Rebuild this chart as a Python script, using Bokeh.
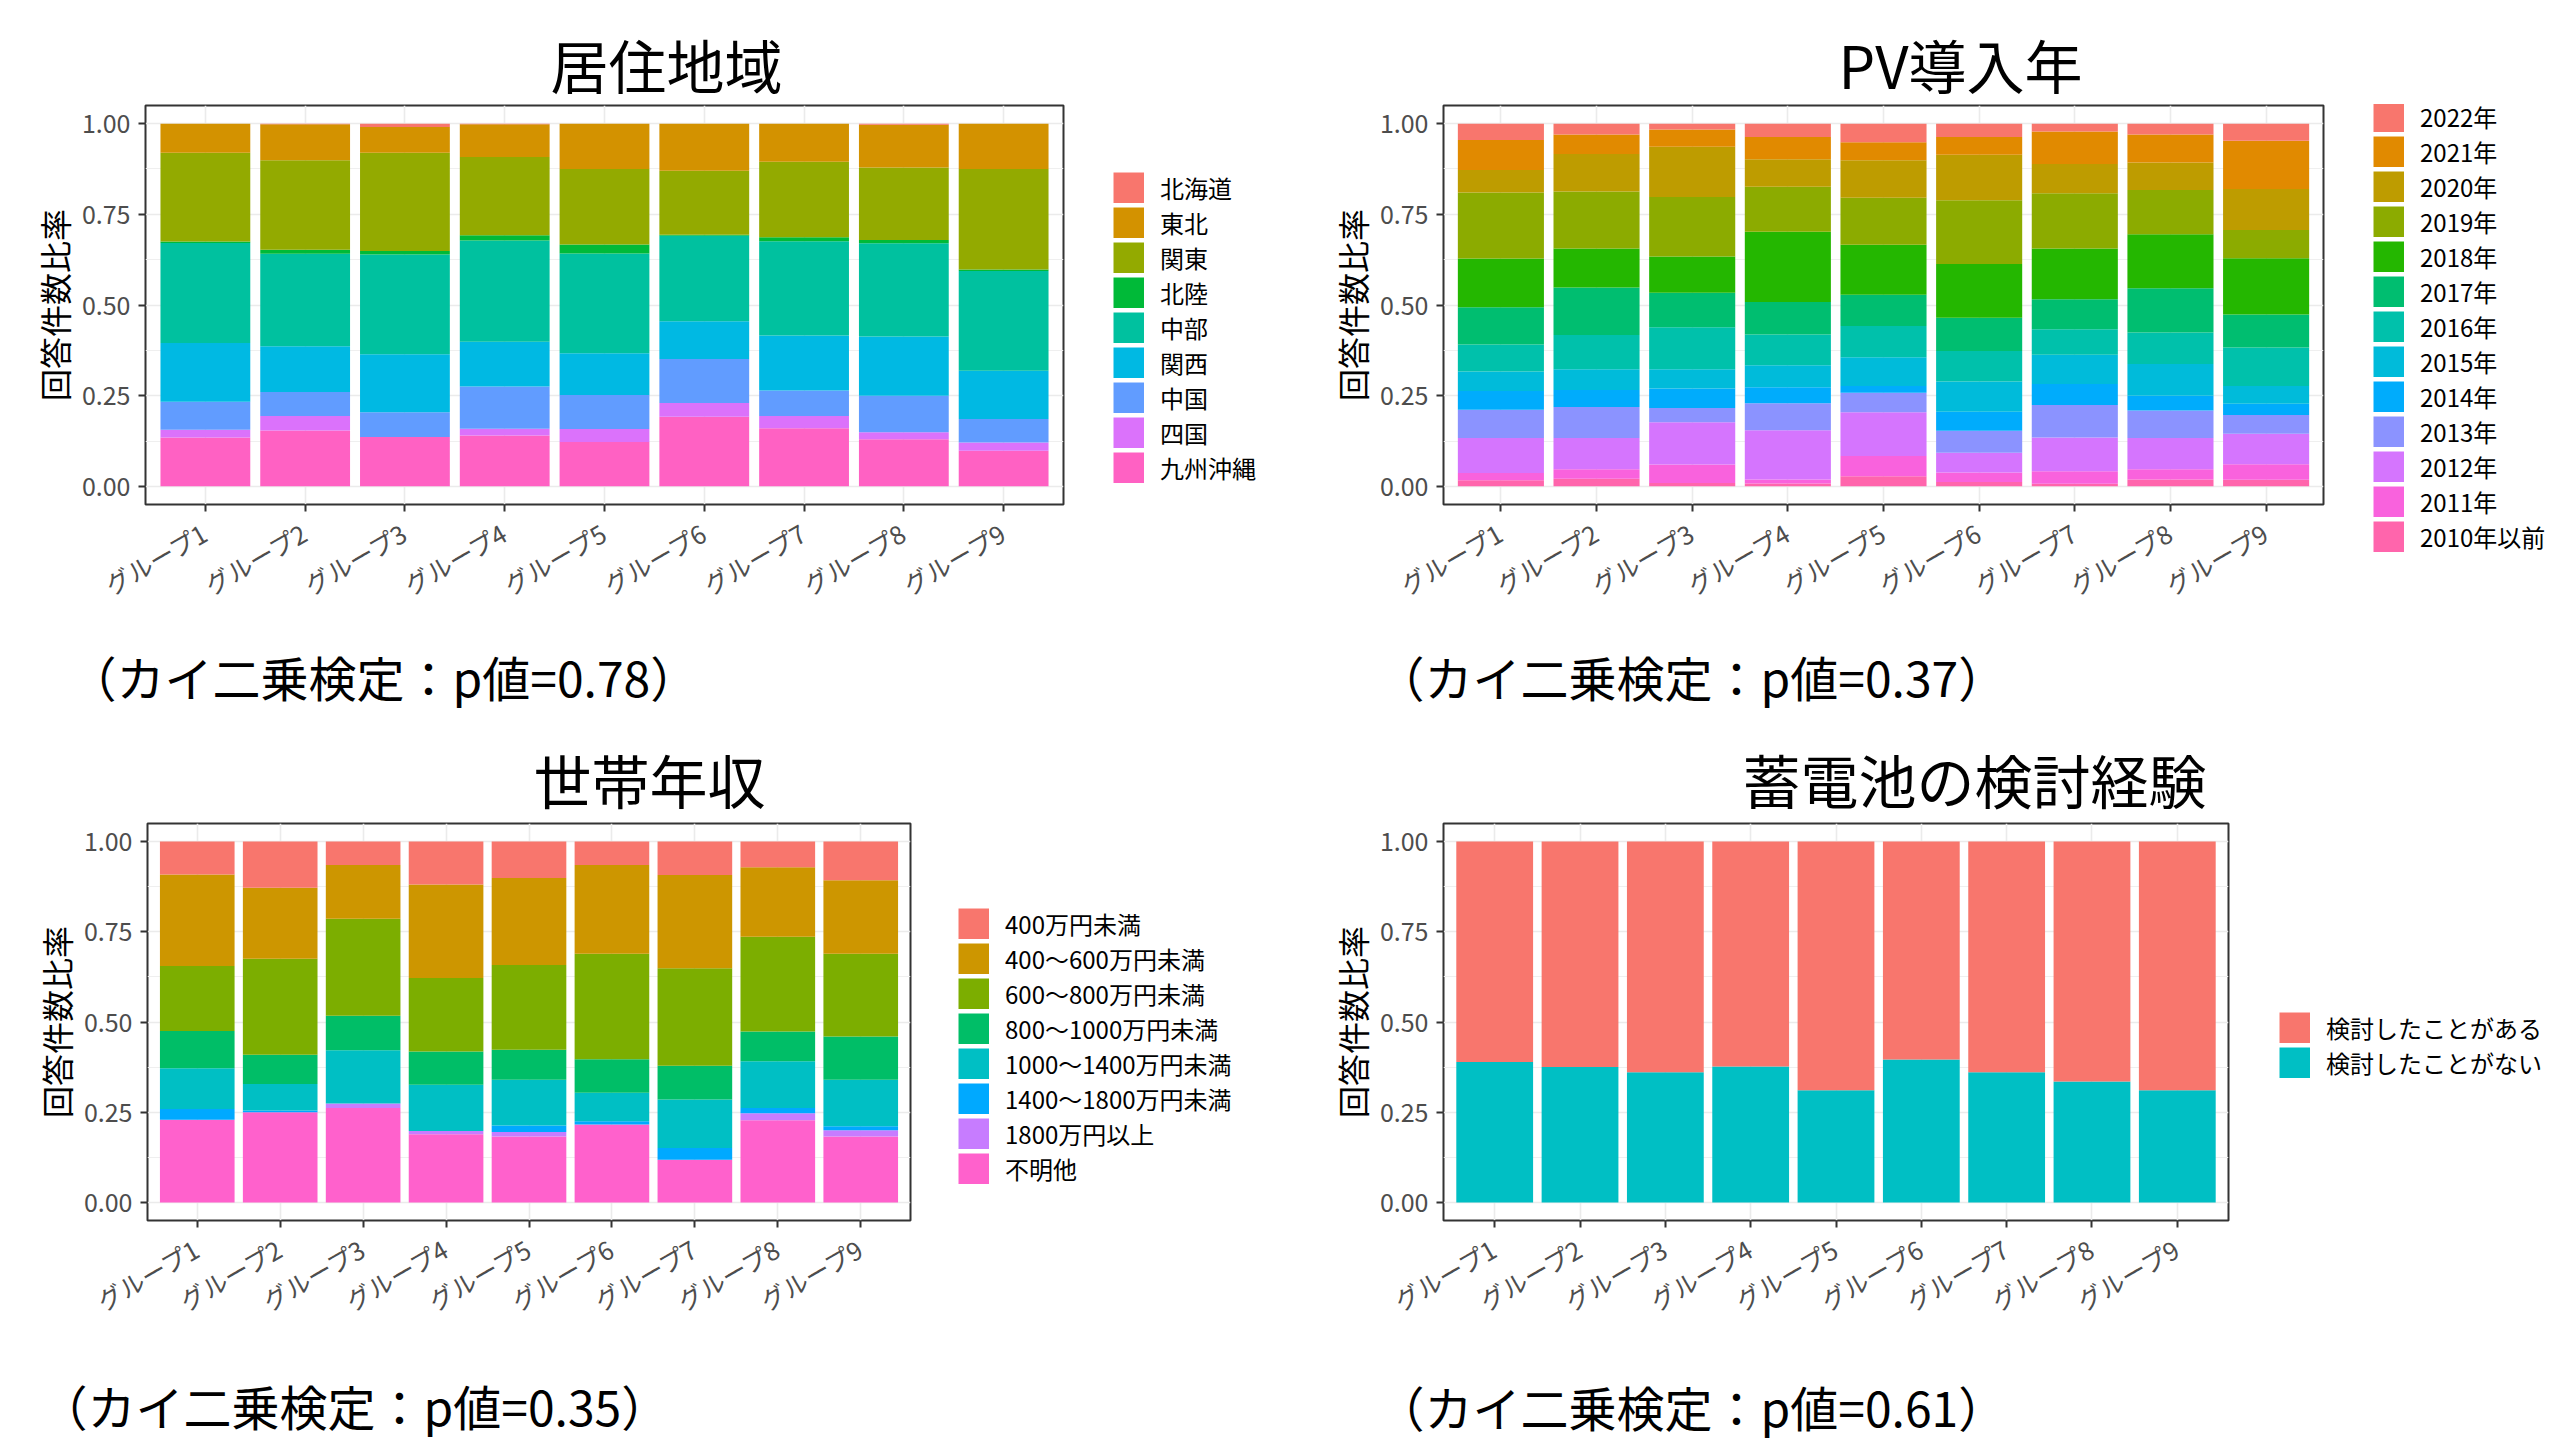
import math
from bokeh.plotting import figure
from bokeh.models import (FactorRange, Range1d, FixedTicker, Legend, LegendItem,
                          Label, ColumnDataSource, NumeralTickFormatter)
from bokeh.layouts import row, column
from bokeh.embed import file_html
from bokeh.resources import INLINE

FONT = "Noto Sans CJK JP"

groups = ["グループ1", "グループ2", "グループ3", "グループ4", "グループ5",
          "グループ6", "グループ7", "グループ8", "グループ9"]

# ---- 居住地域 (legend order, top of bar first) ----
region_cats = ["北海道", "東北", "関東", "北陸", "中部", "関西", "中国", "四国", "九州沖縄"]
region_hokkaido = [0.000, 0.002, 0.009, 0.002, 0.000, 0.000, 0.000, 0.003, 0.000]
region_tohoku   = [0.080, 0.099, 0.071, 0.090, 0.125, 0.130, 0.105, 0.118, 0.125]
region_kanto    = [0.245, 0.247, 0.271, 0.216, 0.208, 0.176, 0.208, 0.200, 0.277]
region_hokuriku = [0.004, 0.011, 0.010, 0.014, 0.025, 0.003, 0.011, 0.009, 0.004]
region_chubu    = [0.276, 0.255, 0.275, 0.279, 0.275, 0.236, 0.260, 0.257, 0.275]
region_kansai   = [0.162, 0.126, 0.160, 0.124, 0.115, 0.104, 0.152, 0.163, 0.133]
region_chugoku  = [0.077, 0.066, 0.068, 0.116, 0.094, 0.121, 0.070, 0.101, 0.065]
region_shikoku  = [0.021, 0.040, 0.000, 0.019, 0.036, 0.038, 0.034, 0.019, 0.023]
region_kyushu   = [0.135, 0.154, 0.136, 0.140, 0.122, 0.192, 0.160, 0.130, 0.098]
region_colors = ["#F8766D", "#D39200", "#93AA00", "#00BA38", "#00C19F",
                 "#00B9E3", "#619CFF", "#DB72FB", "#FF61C3"]

# ---- PV導入年 ----
pv_cats = ["2022年", "2021年", "2020年", "2019年", "2018年", "2017年", "2016年",
           "2015年", "2014年", "2013年", "2012年", "2011年", "2010年以前"]
pv_2022 = [0.045, 0.030, 0.016, 0.037, 0.051, 0.037, 0.022, 0.030, 0.047]
pv_2021 = [0.083, 0.054, 0.048, 0.061, 0.050, 0.049, 0.089, 0.077, 0.133]
pv_2020 = [0.062, 0.103, 0.138, 0.076, 0.103, 0.125, 0.081, 0.076, 0.113]
pv_2019 = [0.182, 0.157, 0.164, 0.124, 0.130, 0.176, 0.152, 0.122, 0.078]
pv_2018 = [0.134, 0.108, 0.100, 0.194, 0.138, 0.148, 0.140, 0.149, 0.155]
pv_2017 = [0.103, 0.131, 0.095, 0.089, 0.086, 0.092, 0.083, 0.122, 0.091]
pv_2016 = [0.074, 0.094, 0.116, 0.085, 0.086, 0.084, 0.070, 0.087, 0.106]
pv_2015 = [0.054, 0.057, 0.053, 0.061, 0.079, 0.083, 0.081, 0.087, 0.049]
pv_2014 = [0.052, 0.047, 0.054, 0.044, 0.019, 0.053, 0.058, 0.041, 0.031]
pv_2013 = [0.078, 0.086, 0.039, 0.074, 0.054, 0.060, 0.089, 0.076, 0.052]
pv_2012 = [0.096, 0.086, 0.117, 0.136, 0.120, 0.055, 0.093, 0.086, 0.084]
pv_2011 = [0.020, 0.026, 0.051, 0.011, 0.056, 0.026, 0.035, 0.028, 0.043]
pv_2010 = [0.017, 0.021, 0.009, 0.008, 0.028, 0.012, 0.007, 0.019, 0.018]
pv_colors = ["#F8766D", "#E18A00", "#BE9C00", "#8CAB00", "#24B700", "#00BE70",
             "#00C1AB", "#00BBDA", "#00ACFC", "#8B93FF", "#D575FE", "#F962DD", "#FF65AC"]

# ---- 世帯年収 ----
inc_cats = ["400万円未満", "400～600万円未満", "600～800万円未満", "800～1000万円未満",
            "1000～1400万円未満", "1400～1800万円未満", "1800万円以上", "不明他"]
inc_lt400    = [0.091, 0.128, 0.065, 0.119, 0.101, 0.065, 0.093, 0.071, 0.107]
inc_400_600  = [0.254, 0.197, 0.149, 0.259, 0.241, 0.246, 0.258, 0.193, 0.204]
inc_600_800  = [0.180, 0.266, 0.269, 0.204, 0.235, 0.292, 0.270, 0.262, 0.229]
inc_800_1000 = [0.103, 0.081, 0.095, 0.092, 0.083, 0.093, 0.094, 0.083, 0.120]
inc_1000_1400 = [0.113, 0.073, 0.148, 0.128, 0.127, 0.079, 0.134, 0.129, 0.129]
inc_1400_1800 = [0.030, 0.005, 0.000, 0.000, 0.018, 0.009, 0.033, 0.015, 0.011]
inc_ge1800   = [0.000, 0.000, 0.012, 0.009, 0.012, 0.000, 0.000, 0.019, 0.017]
inc_unknown  = [0.229, 0.250, 0.262, 0.189, 0.183, 0.216, 0.118, 0.228, 0.183]
inc_colors = ["#F8766D", "#CD9600", "#7CAE00", "#00BE67", "#00BFC4", "#00A9FF",
              "#C77CFF", "#FF61CC"]

# ---- 蓄電池の検討経験 ----
bat_cats = ["検討したことがある", "検討したことがない"]
bat_yes = [0.611, 0.625, 0.639, 0.623, 0.689, 0.604, 0.639, 0.665, 0.689]
bat_no  = [0.389, 0.375, 0.361, 0.377, 0.311, 0.396, 0.361, 0.335, 0.311]
bat_colors = ["#F8766D", "#00BFC4"]

y_ticks = [0.0, 0.25, 0.5, 0.75, 1.0]
y_minor = [0.125, 0.375, 0.625, 0.875]


def blank_fig(width, height, x_range=None, y_range=None):
    f = figure(width=width, height=height,
               x_range=x_range if x_range is not None else Range1d(0, 1),
               y_range=y_range if y_range is not None else Range1d(0, 1),
               x_axis_location=None, y_axis_location=None, min_border=0,
               output_backend="svg", toolbar_location=None, tools="")
    f.outline_line_color = None
    f.grid.visible = False
    f.background_fill_color = "white"
    f.border_fill_color = "white"
    return f


def text_fig(width, height, text, x, y, size, align):
    f = blank_fig(width, height)
    f.add_layout(Label(x=x, y=y, x_units="screen", y_units="screen", text=text,
                       text_font=FONT, text_font_size=size, text_color="black",
                       text_align=align, text_baseline="middle"))
    return f


def make_source(series):
    data = {"group": groups}
    keys = []
    for i, s in enumerate(series):
        k = f"s{i}"
        data[k] = s
        keys.append(k)
    return ColumnDataSource(data), keys


def plot_fig(src, keys, colors, width, height, borders):
    bl, br, bt, bb = borders
    p = figure(x_range=FactorRange(*groups, range_padding=0.1,
                                   range_padding_units="absolute"),
               y_range=Range1d(-0.05, 1.05), width=width, height=height,
               min_border_left=bl, min_border_right=br,
               min_border_top=bt, min_border_bottom=bb,
               output_backend="svg", toolbar_location=None, tools="")
    order = list(range(len(keys)))[::-1]   # bottom of the stack = last legend entry
    p.vbar_stack([keys[i] for i in order], x="group", width=0.9,
                 fill_color=[colors[i] for i in order], line_color=None, source=src)

    p.outline_line_color = "#333333"
    p.outline_line_width = 2
    p.background_fill_color = "white"
    p.border_fill_color = "white"

    p.yaxis.ticker = FixedTicker(ticks=y_ticks, minor_ticks=y_minor)
    p.yaxis.formatter = NumeralTickFormatter(format="0.00")
    p.ygrid.grid_line_color = "#EBEBEB"
    p.ygrid.grid_line_width = 1.6
    p.ygrid.minor_grid_line_color = "#EFEFEF"
    p.ygrid.minor_grid_line_width = 1
    p.xgrid.grid_line_color = "#EBEBEB"
    p.xgrid.grid_line_width = 1.6

    for ax in (p.xaxis[0], p.yaxis[0]):
        ax.axis_line_color = None
        ax.major_tick_line_color = "#333333"
        ax.major_tick_line_width = 2
        ax.major_tick_out = 7
        ax.major_tick_in = 0
        ax.minor_tick_line_color = None
        ax.major_label_text_font = FONT
        ax.major_label_text_font_size = "25px"
        ax.major_label_text_color = "#4D4D4D"
    p.yaxis.major_label_standoff = 8
    p.xaxis.major_label_standoff = 18
    p.xaxis.major_label_orientation = math.pi / 6

    p.yaxis.axis_label = "回答件数比率"
    p.yaxis.axis_label_text_font = FONT
    p.yaxis.axis_label_text_font_size = "32px"
    p.yaxis.axis_label_text_font_style = "normal"
    p.yaxis.axis_label_text_color = "black"
    p.yaxis.axis_label_standoff = 2
    return p


def legend_fig(src, keys, cats, colors, width, height, loc):
    # legend-only figure: the swatches come from renderers of the same data, which lie
    # outside this figure's visible y range (thick butt-capped lines give square keys)
    f = blank_fig(width, height, FactorRange(*groups), Range1d(2, 3))
    items = []
    for k, c, col in zip(keys, cats, colors):
        r = f.line(x="group", y=k, source=src, line_width=31, line_color=col,
                   line_cap="butt")
        items.append(LegendItem(label=c, renderers=[r]))
    f.add_layout(Legend(items=items, location=loc, padding=0, margin=0,
                        spacing=0, glyph_width=31, glyph_height=31, label_height=31,
                        label_standoff=16, label_text_font=FONT,
                        label_text_font_size="24px", label_text_color="black",
                        border_line_color=None, background_fill_alpha=0))
    return f


def panel(title, cats, series, colors, W, H, title_h, title_x, title_y,
          plot_w, plot_h, borders, legend_loc, note, note_x, note_y):
    src, keys = make_source(series)
    note_h = H - title_h - plot_h
    t = text_fig(W, title_h, title, title_x, title_y, "58px", "center")
    p = plot_fig(src, keys, colors, plot_w, plot_h, borders)
    lg = legend_fig(src, keys, cats, colors, W - plot_w, plot_h, legend_loc)
    n = text_fig(W, note_h, note, note_x, note_y, "48px", "left")
    return column(row(t), row(column(p), column(lg)), row(n))


panel1 = panel("居住地域", region_cats,
               [region_hokkaido, region_tohoku, region_kanto, region_hokuriku, region_chubu,
                region_kansai, region_chugoku, region_shikoku, region_kyushu],
               region_colors, 1300, 720, 104, 666, 41,
               1071, 530, (145, 8, 1, 130), (42, 149),
               "（カイ二乗検定：p値=0.78）", 68, 45)
panel2 = panel("PV導入年", pv_cats,
               [pv_2022, pv_2021, pv_2020, pv_2019, pv_2018, pv_2017, pv_2016,
                pv_2015, pv_2014, pv_2013, pv_2012, pv_2011, pv_2010],
               pv_colors, 1256, 720, 104, 660, 41,
               1031, 530, (143, 8, 1, 130), (42, 80),
               "（カイ二乗検定：p値=0.37）", 76, 45)
panel3 = panel("世帯年収", inc_cats,
               [inc_lt400, inc_400_600, inc_600_800, inc_800_1000, inc_1000_1400,
                inc_1400_1800, inc_ge1800, inc_unknown],
               inc_colors, 1300, 719, 102, 649, 44,
               918, 514, (147, 8, 1, 115), (40, 150),
               "（カイ二乗検定：p値=0.35）", 39, 35)
panel4 = panel("蓄電池の検討経験", bat_cats, [bat_yes, bat_no],
               bat_colors, 1256, 719, 102, 674, 44,
               936, 514, (143, 8, 1, 115), (43, 256),
               "（カイ二乗検定：p値=0.61）", 76, 34)

layout = column(row(panel1, panel2), row(panel3, panel4))
open("out.html", "w").write(file_html(layout, INLINE))
